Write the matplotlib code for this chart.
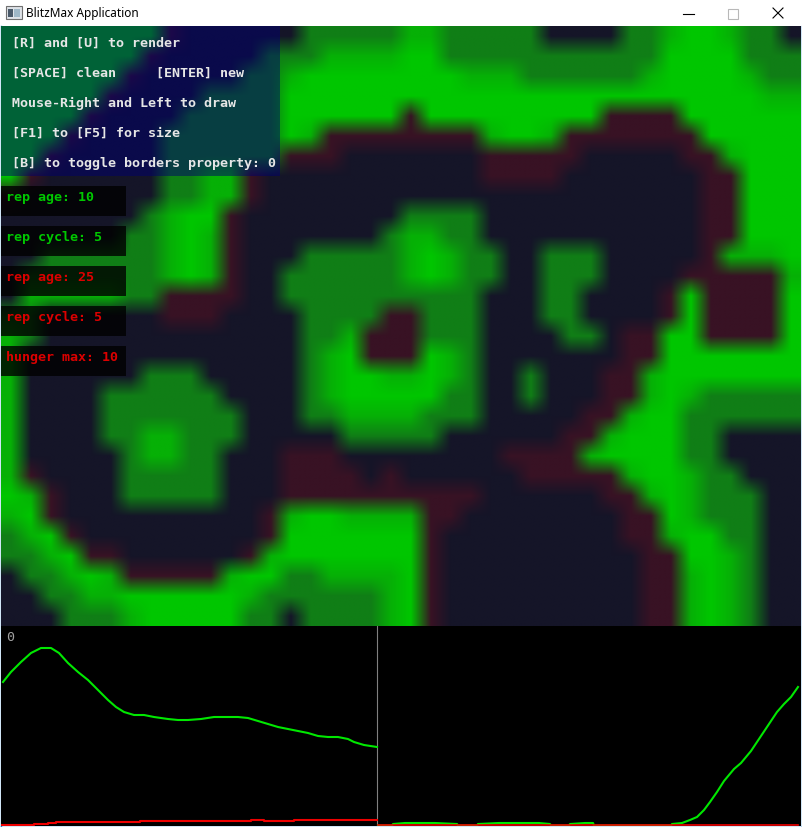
import numpy as np
import matplotlib.pyplot as plt
from matplotlib.patches import Rectangle

W, H = 802, 827

# coarse map of the 800x600 field, one character per 20x20 px block
# '.' empty, 'r' predator edge, 'g' sparse prey, 'h' dense prey, 'G' full prey
field_rows = [
    "GGGGGGGGr......ggggghhggggg....gghGGhgg.",
    "GGGGGGGr.....ggghhhhGGgggggggggggGGGGggg",
    "GGGGGGr.....gghGGGGGGGGhhhgggggghGGGGhgg",
    "GGGGGr....ggggGGGGGGGGGGGGGGGGGGGGGGGGhh",
    "GGGGr....gggggGGGGGGrGGGGGGGGGrrrrGGGGGG",
    "GGGr....ggggggGhrrrrrrrrhGGhrrrrrrrGGGGG",
    "GGr.....ggggggrrr.......rrrrr.....rrhGGG",
    "Gr......gghhr...........rrrr.......rrGGG",
    "r.......gghhr......................rrGGG",
    ".......ghGGr........gggg...........rrGGG",
    "......gghGhr.......ghhgg...........rrGGG",
    "..gggggghGhr...ggggghGhgg..ggg.....rhhhG",
    ".ggggggghGhr..gggggghGhgg..ggg....rrrrrh",
    ".hhhhhggrrrr..gggggggggg...gg....rGrrrrG",
    "gg......rrr....ggggrrggg...gg....rGrrrrG",
    "hg.............gghrrrggg....gg.rrGGrrrrG",
    "h..............ghGrrrGhg.......rrGGGGGGG",
    "h......ggg.....ghGGhhGhg..g...rrhGGGGGGG",
    "h....gggggg....ghGGGGGgg..g...rrhGhggggg",
    "h....ggggggg...gghhhhggg.....rrhGGgggggg",
    "h....gghhggg.....ggggg......rrhGGGgg....",
    "h.....ghhgg...rrr........rrrrhGGGGgg....",
    "hr....ggggg...rrrr.r......rrrrrhGGhgg...",
    "Ghr...ggggg...rrrrrrrrrr......rrhGhggg..",
    "hGr..........rhGGhhhhrr........rrGhggg..",
    "ghGr.........rGGGGGGGr.........rrhGGgg..",
    "gghGrr......rhGGGGGGGr..........rrGGhg..",
    ".gghGhrrrrrhGGgghhhhGr..........rrhGhg..",
    "..gghhGGGGGGhgggggghGr..........rrhGhg..",
    "...ggghGGGGGgg.gggghGr..........rrhGhg..",
]

palette = {
    '.': (21, 21, 40),
    'r': (56, 18, 36),
    'g': (16, 126, 22),
    'h': (6, 176, 6),
    'G': (0, 198, 0),
}

menu_lines = [
    "[R] and [U] to render",
    "[SPACE] clean",
    "Mouse-Right and Left to draw",
    "[F1] to [F5] for size",
    "[B] to toggle borders property: 0",
]
settings = ["rep age: 10", "rep cycle: 5", "rep age: 25", "rep cycle: 5", "hunger max: 10"]
settings_colors = ['#00c800', '#00c800', '#dc0000', '#dc0000', '#dc0000']

# population history, height in px above the graph floor
prey_left_t = [2, 10, 20, 30, 40, 45, 50, 58, 67, 77, 87, 97, 107, 115, 123, 133, 143, 153,
               167, 177, 187, 200, 213, 237, 247, 257, 267, 277, 287, 297, 307, 317, 327,
               337, 347, 353, 363, 376]
prey_left = [144, 154, 164, 173, 178, 178, 178, 173, 163, 154, 146, 136, 126, 119, 114, 111,
             111, 109, 107, 106, 106, 107, 109, 109, 108, 105, 102, 99, 97, 95, 93, 90, 89,
             89, 87, 84, 81, 79]
pred_left_t = [0, 33, 47, 55, 73, 139, 250, 263, 293, 376]
pred_left = [1, 2, 3, 4, 4, 5, 6, 5, 6, 6]

prey_right_t = [377, 391, 392, 404, 434, 456, 457, 476, 477, 498, 538, 549, 550, 568, 569, 584,
                592, 593, 670, 671, 681, 689, 696, 703, 709, 716, 723, 733, 740, 750, 756,
                766, 776, 783, 790, 797]
prey_right = [0.5, 0.5, 2, 3, 3, 2, 0.5, 0.5, 2, 3, 3, 2, 0.5, 0.5, 2, 3, 3, 0.5, 0.5, 2, 3,
              6, 9, 16, 24, 34, 45, 57, 63, 75, 84, 99, 114, 122, 129, 139]
pred_right_t = [377, 797]
pred_right = [0.7, 0.7]


def box(x, y, w, h):
    return [x / W, 1 - (y + h) / H, w / W, h / H]


fig = plt.figure(figsize=(W / 100, H / 100), dpi=100)
fig.patch.set_facecolor('white')

# window frame and title bar
frame = fig.add_axes([0, 0, 1, 1])
frame.set_xlim(0, W)
frame.set_ylim(H, 0)
frame.axis('off')
frame.add_patch(Rectangle((6, 6), 16, 13, fc='#dfe3e8', ec='#707070', lw=0.8))
frame.add_patch(Rectangle((8, 9), 5, 8, fc='#4a5a6a', lw=0))
frame.add_patch(Rectangle((14, 9), 6, 8, fc='#9fb8c8', lw=0))
frame.text(26, 13, 'BlitzMax Application', va='center', ha='left', fontsize=8.5,
           family='Noto Sans', color='black')
frame.plot([683, 694], [13.5, 13.5], color='black', lw=0.8)
frame.add_patch(Rectangle((727.5, 8.5), 10, 10, fill=False, ec='#b8b8b8', lw=0.8))
frame.plot([773, 783], [8, 18], color='black', lw=0.8)
frame.plot([773, 783], [18, 8], color='black', lw=0.8)
frame.plot([0.5, 0.5], [26, H], color='#1883d7', lw=1)
frame.plot([W - 0.5, W - 0.5], [26, H], color='#1883d7', lw=1)
frame.plot([0, W], [H - 0.5, H - 0.5], color='#1883d7', lw=1)

# simulation field
rgb = np.array([[palette[ch] for ch in row.ljust(40, '.')[:40]] for row in field_rows],
               dtype=float) / 255
field = fig.add_axes(box(1, 26, 800, 600))
field.imshow(rgb, extent=(0, 800, 600, 0), interpolation='bilinear', aspect='auto')
field.set_xlim(0, 800)
field.set_ylim(600, 0)
field.axis('off')

# help panel
field.add_patch(Rectangle((0, 0), 279, 150, color=(0, 0, 0.43), alpha=0.5, lw=0))
mono = dict(family='DejaVu Sans Mono', fontsize=9.6, fontweight='bold', va='center', ha='left')
for i, line in enumerate(menu_lines):
    field.text(11, 17 + 30 * i, line, color='#e6e6e6', **mono)
field.text(155, 47, "[ENTER] new", color='#e6e6e6', **mono)

# settings boxes
for i, (label, col) in enumerate(zip(settings, settings_colors)):
    y0 = 160 + 40 * i
    field.add_patch(Rectangle((0, y0), 125, 30, color='black', alpha=0.8, lw=0))
    field.text(5, y0 + 12, label, color=col, **mono)

# population graphs
graph = fig.add_axes(box(1, 626, 800, 200))
graph.set_facecolor('black')
graph.set_xlim(0, 800)
graph.set_ylim(0, 200)
graph.axvline(376, color='#808080', lw=0.8)
graph.plot(prey_left_t, prey_left, color='#00e800', lw=1.5)
graph.plot(pred_left_t, pred_left, color='#ee0000', lw=1.5, drawstyle='steps-post')
graph.plot(prey_right_t, prey_right, color='#00e800', lw=1.5)
graph.plot(pred_right_t, pred_right, color='#ee0000', lw=1.2)
graph.text(9, 188.5, '0', color='#a0a0a0', family='DejaVu Sans Mono', fontsize=9.6,
           va='center', ha='center')
graph.set_xticks([])
graph.set_yticks([])
for s in graph.spines.values():
    s.set_visible(False)

fig.savefig('out.png', dpi=100)
